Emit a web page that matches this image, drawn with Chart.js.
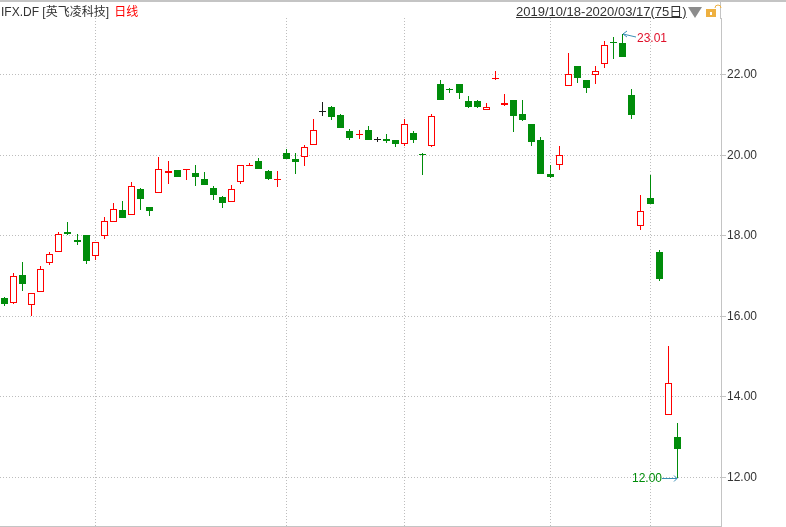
<!DOCTYPE html>
<html>
<head>
<meta charset="utf-8">
<title>IFX.DF</title>
<script src="https://cdn.jsdelivr.net/npm/chart.js@4"></script>
<style>
  html, body { margin: 0; padding: 0; background: #fff; }
  #wrap { position: relative; width: 786px; height: 527px; overflow: hidden; }
  #chart { position: absolute; left: 0; top: 0; }
  .head {
    position: absolute; top: 4px; line-height: 16px; font-size: 12px; color: #333;
    font-family: "Liberation Sans", "Noto Sans CJK SC", sans-serif; white-space: nowrap;
  }
  #title { left: 1px; }
  #title b { font-weight: normal; color: #f00; margin-left: 2px; }
  #range { left: 516px; font-size: 13px; text-decoration: underline; }
</style>
</head>
<body>
<div id="wrap">
  <canvas id="chart" width="786" height="527"></canvas>
  <div class="head" id="title">IFX.DF [英飞凌科技] <b>日线</b></div>
  <div class="head" id="range">2019/10/18-2020/03/17(75日)</div>
</div>
<script>
// -------------------------------
// Daily candles
// -------------------------------
const opens = [
  16.46, 16.34, 17.03, 16.29, 16.61, 17.33, 17.61, 18.10, 17.90, 18.02,
  17.51, 18.00, 18.35, 18.64, 18.53, 19.16, 18.72, 19.07, 19.57, 19.64,
  19.63, 19.56, 19.41, 19.19, 18.97, 18.85, 19.35, 19.735, 19.86, 19.61,
  19.40, 20.06, 19.91, 19.97, 20.25, 21.10, 21.20, 21.00, 20.60, 20.51,
  20.63, 20.40, 20.41, 20.38, 20.29, 20.55, 20.03, 20.24, 21.77, 21.64,
  21.77, 21.35, 21.35, 21.13, 21.90, 21.26, 21.37, 21.02, 20.78, 20.38,
  19.54, 19.77, 21.72, 22.21, 21.86, 22.00, 22.27, 22.81, 22.80, 21.49,
  18.25, 18.95, 17.61, 13.55, 13.01
];
const highs = [
  16.48, 17.07, 17.35, 16.57, 17.24, 17.60, 18.09, 18.34, 18.05, 18.02,
  17.84, 18.47, 18.82, 18.87, 19.35, 19.19, 18.72, 19.96, 19.86, 19.64,
  19.65, 19.76, 19.59, 19.24, 18.99, 19.26, 19.75, 19.81, 19.93, 19.64,
  19.61, 20.15, 20.06, 20.25, 20.90, 21.32, 21.22, 21.03, 20.65, 20.63,
  20.73, 20.46, 20.53, 20.38, 20.90, 20.60, 20.06, 21.03, 21.87, 21.67,
  21.77, 21.47, 21.37, 21.30, 22.09, 21.52, 21.37, 21.37, 20.78, 20.45,
  19.76, 20.23, 22.53, 22.21, 21.86, 22.23, 22.83, 22.95, 23.01, 21.64,
  19.02, 19.52, 17.64, 15.26, 13.35
];
const lows = [
  16.26, 16.32, 16.63, 16.02, 16.61, 17.28, 17.61, 18.02, 17.77, 17.30,
  17.40, 17.93, 18.35, 18.44, 18.53, 18.64, 18.49, 19.07, 19.29, 19.46,
  19.39, 19.24, 19.26, 18.89, 18.69, 18.85, 19.30, 19.735, 19.66, 19.39,
  19.21, 19.91, 19.54, 19.73, 20.25, 20.98, 20.88, 20.68, 20.38, 20.41,
  20.38, 20.33, 20.31, 20.21, 20.24, 20.31, 19.51, 20.21, 21.37, 21.55,
  21.40, 21.17, 21.17, 21.13, 21.87, 21.22, 20.58, 20.85, 20.23, 19.54,
  19.44, 19.64, 21.72, 21.79, 21.54, 21.76, 22.18, 22.40, 22.45, 20.89,
  18.14, 18.78, 16.89, 13.55, 12.00
];
const closes = [
  16.31, 16.995, 16.80, 16.57, 17.17, 17.54, 18.04, 18.05, 17.86, 17.38,
  17.84, 18.36, 18.66, 18.44, 19.23, 18.92, 18.62, 19.65, 19.61, 19.46,
  19.65, 19.46, 19.26, 19.01, 18.82, 19.16, 19.75, 19.76, 19.66, 19.41,
  19.41, 19.91, 19.83, 20.20, 20.62, 21.10, 20.95, 20.68, 20.43, 20.53,
  20.38, 20.40, 20.36, 20.28, 20.79, 20.38, 20.01, 20.97, 21.37, 21.62,
  21.55, 21.20, 21.20, 21.19, 21.92, 21.31, 20.98, 20.88, 20.33, 19.54,
  19.46, 20.00, 22.02, 21.91, 21.66, 22.10, 22.74, 22.785, 22.45, 20.99,
  18.62, 18.78, 16.92, 14.35, 12.72
];
// first trading day of each month, vertical grid lines
const monthStarts = [10, 31, 44, 60, 71];
const priceTicks = [12, 14, 16, 18, 20, 22];

const RED = "#ff0000";
const GREEN = "#008c0a";
const BLACK = "#1a1a1a";
const AXIS = "#c4c4c4";
const GRID = "#bdbdbd";
const ARROW = "#3a8fb5";

function candleColor(i) {
  if (closes[i] > opens[i]) return RED;
  if (closes[i] < opens[i]) return GREEN;
  return BLACK;
}

const colors = opens.map((_, i) => candleColor(i));

// -------------------------------
// Plugins
// -------------------------------
// keep candles on whole pixels, like the original
const snapBars = {
  id: "snapBars",
  beforeDatasetsDraw(chart) {
    chart.data.datasets.forEach((_, d) => {
      chart.getDatasetMeta(d).data.forEach((bar) => {
        bar.x = Math.floor(bar.x) + 0.5;
        bar.y = Math.round(bar.y);
        bar.base = Math.round(bar.base);
        if (bar.y === bar.base) bar.base = bar.y + 1;
      });
    });
  },
};

function arrowHead(ctx, x, y, dir) {
  ctx.beginPath();
  ctx.moveTo(x - dir * 3, y - 3);
  ctx.lineTo(x, y);
  ctx.lineTo(x - dir * 3, y + 3);
  ctx.stroke();
}

// top strip, axis stub, high / low callouts, header icons
const decorations = {
  id: "decorations",
  afterDraw(chart) {
    const { ctx, chartArea, scales } = chart;
    ctx.save();

    ctx.fillStyle = AXIS;
    ctx.fillRect(0, 0, 786, 2);
    ctx.fillRect(Math.round(chartArea.right) - 1, 0, 1, chartArea.top + 1);

    // highest price
    const hi = Math.max(...highs);
    const hiX = Math.floor(scales.x.getPixelForValue(highs.indexOf(hi)));
    const hiY = Math.round(scales.y.getPixelForValue(hi));
    ctx.strokeStyle = ARROW;
    ctx.lineWidth = 1;
    ctx.beginPath();
    ctx.moveTo(hiX + 14, hiY + 3);
    ctx.lineTo(hiX + 1, hiY);
    ctx.stroke();
    ctx.beginPath();
    ctx.moveTo(hiX + 5, hiY - 3);
    ctx.lineTo(hiX + 1, hiY);
    ctx.lineTo(hiX + 5, hiY + 3);
    ctx.stroke();
    ctx.font = '12px "Liberation Sans"';
    ctx.textBaseline = "middle";
    ctx.fillStyle = "#e0102a";
    ctx.textAlign = "left";
    ctx.fillText(hi.toFixed(2), hiX + 15, hiY + 5);

    // lowest price
    const lo = Math.min(...lows);
    const loX = Math.floor(scales.x.getPixelForValue(lows.indexOf(lo)));
    const loY = Math.round(scales.y.getPixelForValue(lo)) + 0.5;
    ctx.beginPath();
    ctx.moveTo(loX - 15, loY);
    ctx.lineTo(loX, loY);
    ctx.stroke();
    arrowHead(ctx, loX, loY, 1);
    ctx.fillStyle = GREEN;
    ctx.textAlign = "right";
    ctx.fillText(lo.toFixed(2), loX - 15, loY);

    // dropdown triangle
    ctx.fillStyle = "#8c8c8c";
    ctx.beginPath();
    ctx.moveTo(688, 7);
    ctx.lineTo(702, 7);
    ctx.lineTo(695, 18);
    ctx.closePath();
    ctx.fill();

    // open lock
    ctx.fillStyle = "#eeb040";
    ctx.fillRect(706, 9, 10, 8);
    ctx.fillStyle = "#fff";
    ctx.fillRect(710, 12, 2, 3);
    ctx.strokeStyle = "#eeb040";
    ctx.beginPath();
    ctx.arc(718, 8, 3, Math.PI, 0);
    ctx.stroke();

    ctx.restore();
  },
};

// -------------------------------
// Chart
// -------------------------------
new Chart(document.getElementById("chart"), {
  type: "bar",
  data: {
    datasets: [
      {
        label: "body",
        order: 1,
        data: opens.map((o, i) => ({ x: i, y: [o, closes[i]] })),
        barThickness: 7,
        backgroundColor: colors.map((c) => (c === GREEN ? GREEN : "#ffffff")),
        borderColor: colors,
        borderWidth: 1,
        borderSkipped: false,
        inflateAmount: 0,
      },
      {
        label: "wick",
        order: 2,
        data: highs.map((h, i) => ({ x: i, y: [lows[i], h] })),
        barThickness: 1,
        backgroundColor: colors,
        borderWidth: 0,
        inflateAmount: 0,
      },
    ],
  },
  options: {
    responsive: false,
    animation: false,
    events: [],
    layout: { padding: { top: 18, bottom: 1, left: 0, right: 0 } },
    datasets: { bar: { grouped: false } },
    plugins: {
      legend: { display: false },
      title: { display: false },
      tooltip: { enabled: false },
    },
    scales: {
      x: {
        type: "linear",
        offset: false,
        min: -0.473,
        max: 78.8,
        afterBuildTicks(axis) {
          axis.ticks = monthStarts.map((value) => ({ value }));
        },
        ticks: { display: false },
        grid: { color: GRID, drawTicks: false, lineWidth: 1, offset: false },
        border: { color: AXIS, dash: [1, 2] },
        afterFit(axis) {
          axis.height = 0;
        },
      },
      y: {
        position: "right",
        min: 10.796,
        max: 23.41,
        afterBuildTicks(axis) {
          axis.ticks = priceTicks.map((value) => ({ value }));
        },
        ticks: {
          color: "#333333",
          padding: 1,
          font: { family: '"Liberation Sans"', size: 12 },
          callback: (v) => v.toFixed(2),
        },
        grid: { color: GRID, tickColor: AXIS, tickLength: 5, lineWidth: 1 },
        border: { color: AXIS, dash: [1, 2] },
        afterFit(axis) {
          axis.width = 65;
          axis.paddingTop = 0;
          axis.paddingBottom = 0;
        },
      },
    },
  },
  plugins: [snapBars, decorations],
});
</script>
</body>
</html>
